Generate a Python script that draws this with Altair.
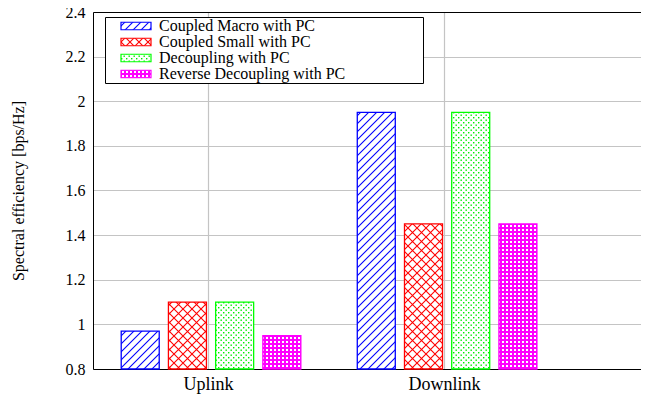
import json
import altair as alt
import pandas as pd

# ---------------- data ----------------
GROUPS = ["Uplink", "Downlink"]
SERIES = [
    "Coupled Macro with PC",
    "Coupled Small with PC",
    "Decoupling with PC",
    "Reverse Decoupling with PC",
]
UPLINK = [0.97, 1.10, 1.10, 0.95]
DOWNLINK = [1.95, 1.45, 1.95, 1.45]
YTICKS = [0.8, 1.0, 1.2, 1.4, 1.6, 1.8, 2.0, 2.2, 2.4]

# ---------------- styles ----------------
STROKES = ["#0000ff", "#ff0000", "#00ff00", "#ff00ff"]
FILLS = ["url(#pBlue)", "url(#pRed)", "url(#pGreen)", "url(#pMag)"]
DASHES = [[1, 0], [1, 0], [2, 2], [1, 0]]
FONT = "Liberation Serif"

PATTERN_DEFS = """
<style>#vis svg.marks { overflow: visible; }</style>
<svg width="0" height="0" style="position:absolute;left:0;top:0" aria-hidden="true">
 <defs>
  <pattern id="pBlue" patternUnits="userSpaceOnUse" width="8" height="8">
   <rect width="8" height="8" fill="#ffffff"/>
   <path d="M-2,2 L2,-2 M0,8 L8,0 M6,10 L10,6" stroke="#0000ff" stroke-width="1.1"/>
  </pattern>
  <pattern id="pRed" patternUnits="userSpaceOnUse" width="9" height="9">
   <rect width="9" height="9" fill="#ffffff"/>
   <path d="M0,0 L9,9 M9,0 L0,9" stroke="#ff0000" stroke-width="1.1"/>
  </pattern>
  <pattern id="pGreen" patternUnits="userSpaceOnUse" width="5" height="5">
   <rect width="5" height="5" fill="#ffffff"/>
   <rect x="0" y="0" width="1.4" height="1.4" fill="#00ee00"/>
   <rect x="2.5" y="2.5" width="1.4" height="1.4" fill="#00ee00"/>
  </pattern>
  <pattern id="pMag" patternUnits="userSpaceOnUse" width="4" height="4">
   <rect width="4" height="4" fill="#ff00ff"/>
   <rect x="1" y="1" width="2" height="2" fill="#ffffff"/>
  </pattern>
 </defs>
</svg>
"""

# inject the pattern definitions into the page written by chart.save
try:
    import altair.utils.html as _ah

    _std = _ah.TEMPLATES["standard"]

    class _PatternTemplate:
        def render(self, *args, **kwargs):
            html = _std.render(*args, **kwargs)
            if "<body>" in html:
                return html.replace("<body>", "<body>" + PATTERN_DEFS, 1)
            return PATTERN_DEFS + html

    _ah.TEMPLATES["standard"] = _PatternTemplate()
except Exception:
    pass

# ---------------- layout of clustered bars ----------------
STEP = 0.2
BW = 0.161
SHIFT = 0.013
rows = []
for gi, vals in enumerate([UPLINK, DOWNLINK]):
    for si, v in enumerate(vals):
        c = gi + (si - 1.5) * STEP + SHIFT
        rows.append(
            dict(group=GROUPS[gi], series=SERIES[si], value=v,
                 x0=c - BW / 2, x1=c + BW / 2)
        )
df = pd.DataFrame(rows)

XDOMAIN = [-0.487, 1.864]
xscale = alt.Scale(domain=XDOMAIN, nice=False, zero=False)
yscale = alt.Scale(domain=[YTICKS[0], YTICKS[-1]], nice=False, zero=False)

# widen the legend box like the original key (invisible trailing spacing,
# closed by a blank, non-whitespace glyph so that it is not trimmed)
LEGEND_PAD = "\u00a0" * 16 + "\u2800"

legend = alt.Legend(
    title=None,
    orient="none",
    legendX=12,
    legendY=5,
    symbolType="M0,-1H8V1H0Z",
    symbolSize=56.25,
    symbolStrokeWidth=1.2,
    symbolOffset=7,
    labelOffset=30,
    labelExpr="datum.label + '" + LEGEND_PAD + "'",
    labelFont=FONT,
    labelFontSize=16,
    labelColor="black",
    labelLimit=600,
    fillColor="white",
    strokeColor="black",
    padding=1,
    rowPadding=0,
)

label_expr = json.dumps(GROUPS) + "[round(datum.value)]"

bars = alt.Chart(df).mark_rect(strokeWidth=1.3).encode(
    x=alt.X(
        "x0:Q",
        scale=xscale,
        axis=alt.Axis(
            values=[0, 1],
            labelExpr=label_expr,
            title=None,
            grid=True,
            ticks=False,
            domain=True,
            domainColor="black",
            labelFont=FONT,
            labelFontSize=18,
            labelColor="black",
            labelPadding=6,
            gridColor="#c4c4c4",
            gridWidth=1.2,
        ),
    ),
    x2="x1:Q",
    y=alt.Y(
        "value:Q",
        scale=yscale,
        axis=alt.Axis(
            values=YTICKS,
            format="~g",
            title="Spectral efficiency [bps/Hz]",
            titleFont=FONT,
            titleFontSize=16,
            titleFontWeight="normal",
            titleColor="black",
            titlePadding=39,
            labelFont=FONT,
            labelFontSize=16,
            labelColor="black",
            labelPadding=8,
            ticks=False,
            domain=True,
            domainColor="black",
            grid=True,
            gridColor="#c4c4c4",
            gridWidth=1.2,
        ),
    ),
    y2=alt.datum(YTICKS[0]),
    fill=alt.Fill("series:N", scale=alt.Scale(domain=SERIES, range=FILLS), legend=legend),
    stroke=alt.Stroke("series:N", scale=alt.Scale(domain=SERIES, range=STROKES), legend=legend),
    strokeDash=alt.StrokeDash("series:N", scale=alt.Scale(domain=SERIES, range=DASHES), legend=legend),
)

top_border = alt.Chart(df).mark_rect(opacity=0).encode(
    x=alt.X(
        "x0:Q",
        scale=xscale,
        axis=alt.Axis(
            orient="top", labels=False, ticks=False, grid=False, title=None,
            domain=True, domainColor="black", minExtent=0, maxExtent=0,
            offset=0, labelPadding=0,
        ),
    ),
    x2="x1:Q",
)

chart = (
    alt.layer(bars, top_border)
    .resolve_axis(x="independent")
    .properties(
        width=555,
        height=357,
        autosize=alt.AutoSizeParams(type="none"),
        padding={"left": 85, "top": 4, "right": 0, "bottom": 27},
        background="white",
    )
    .configure_view(stroke=None)
)

chart.save("out.html", embed_options={"renderer": "svg", "actions": False})
